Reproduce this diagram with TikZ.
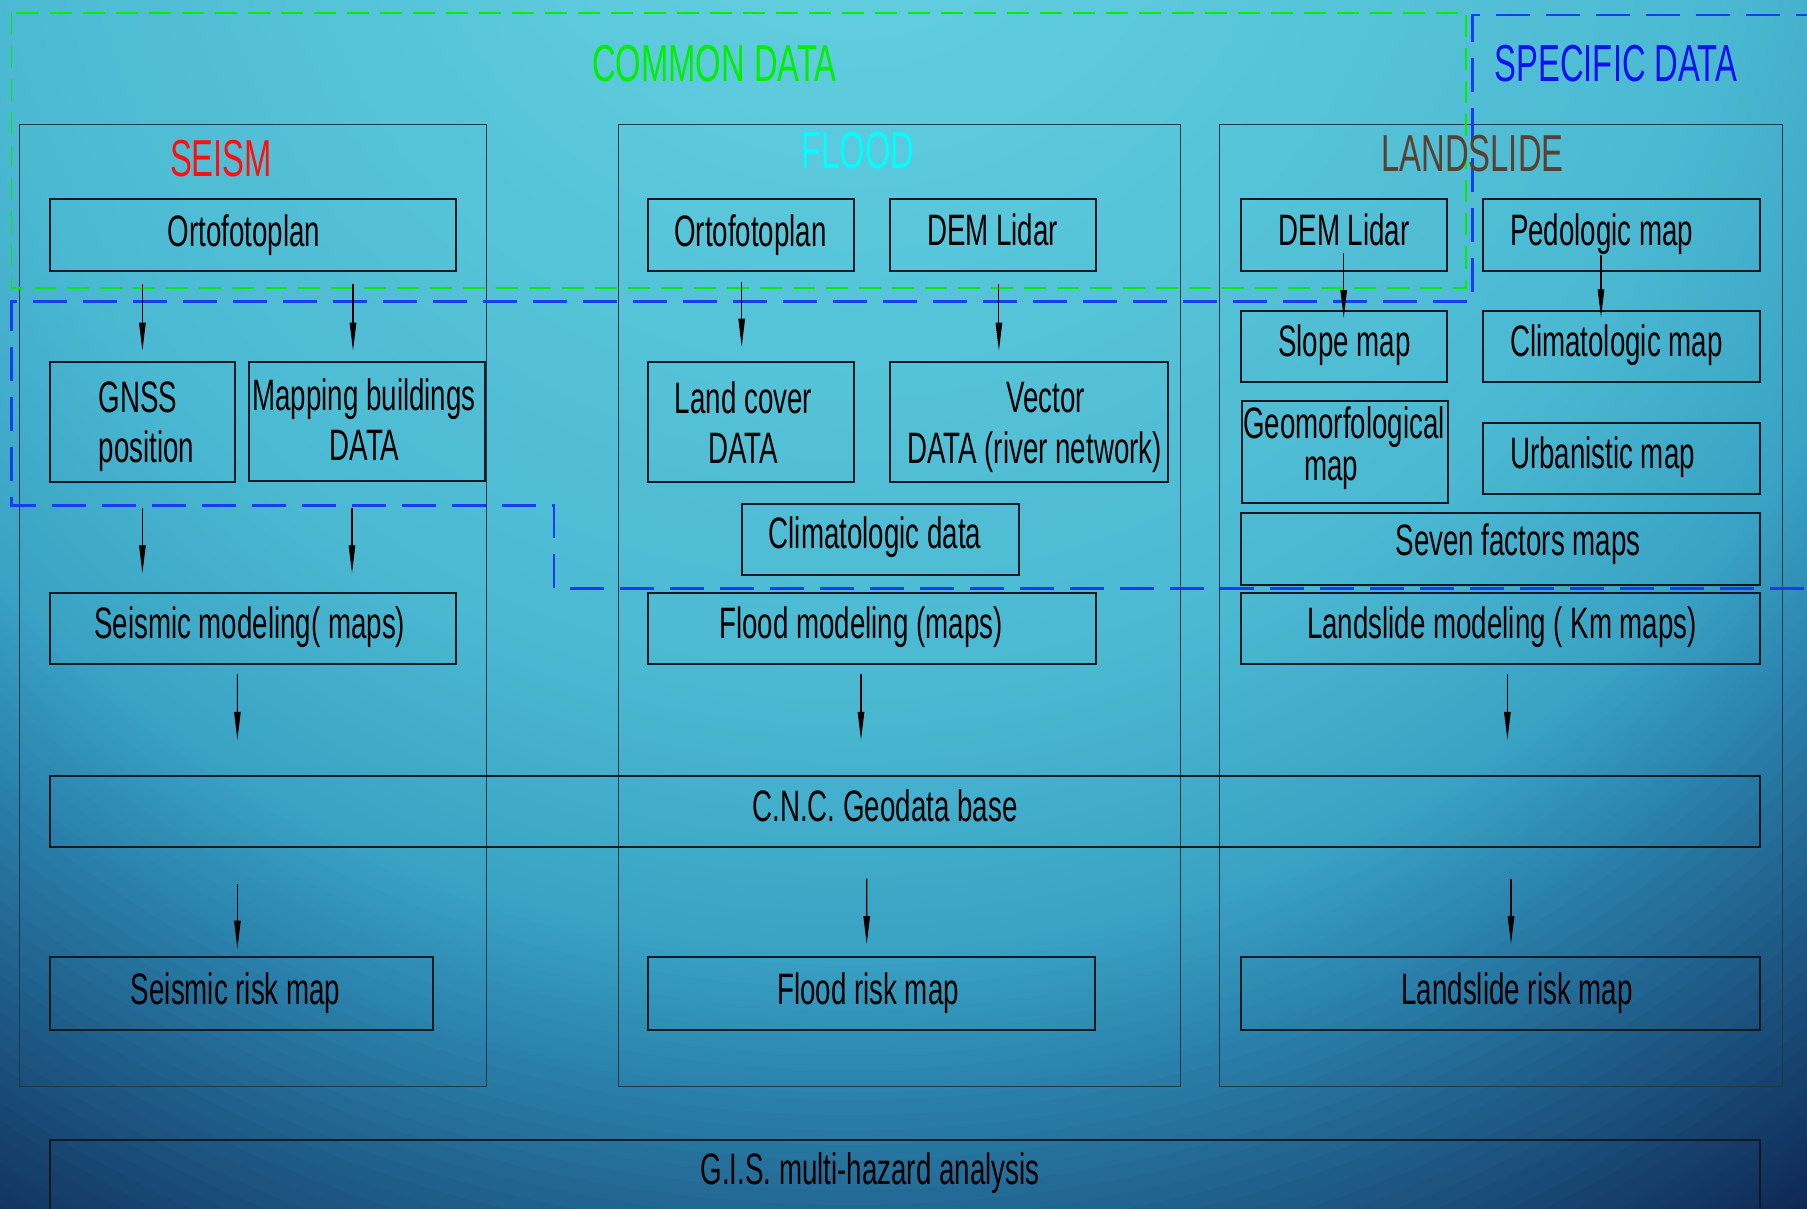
\documentclass[tikz,border=0pt]{standalone}
\usepackage{fontspec}
\setmainfont[FakeStretch=0.63]{Liberation Sans}
\usetikzlibrary{arrows.meta,calc}
\definecolor{g0}{HTML}{66D1E2}
\definecolor{g1}{HTML}{5ECBDD}
\definecolor{g2}{HTML}{4BB9D2}
\definecolor{g3}{HTML}{3AA3C4}
\definecolor{g4}{HTML}{2A82AC}
\definecolor{g5}{HTML}{163F6C}
\definecolor{g6}{HTML}{0C2450}
\definecolor{g7}{HTML}{0A1F48}
\definecolor{boxline}{HTML}{0E1A22}
\definecolor{colline}{HTML}{1C3A48}
\definecolor{cgreen}{HTML}{00F000}
\definecolor{cblue}{HTML}{1A3CF0}
\definecolor{tblue}{HTML}{1010F0}
\definecolor{tred}{HTML}{FF1010}
\definecolor{tcyan}{HTML}{00FFFF}
\definecolor{tbrown}{HTML}{5A4030}
\newcommand{\bx}[5]{\node[box, minimum width=#4pt, minimum height=#5pt] (#1) at (#2,#3) {};}
\newcommand{\cx}[5]{\node[colbox, minimum width=#4pt, minimum height=#5pt] (#1) at (#2,#3) {};}
\tikzset{
 box/.style={draw=boxline, line width=2pt, inner sep=0pt, outer sep=0pt, anchor=north west, rectangle},
 colbox/.style={draw=colline, line width=0.9pt, inner sep=0pt, outer sep=0pt, anchor=north west, rectangle},
 txt/.style={inner sep=0pt, outer sep=0pt, font=\fontsize{44}{50}\selectfont, text=black},
 ttl/.style={inner sep=0pt, outer sep=0pt, font=\fontsize{52}{60}\selectfont, anchor=base},
 arr/.style={draw=black, line width=1.1pt, -{Triangle[length=28pt,width=6.5pt]}},
 greendash/.style={draw=cgreen, line width=1.8pt, dash pattern=on 22pt off 11pt},
 bluedash/.style={draw=cblue, line width=2.6pt, dash pattern=on 34pt off 16pt},
}
\begin{document}
\begin{tikzpicture}[x=1pt,y=-1pt]
\useasboundingbox (0,0) rectangle (1807,1209);
\begin{scope}
\clip (0,0) rectangle (1807,1209);
\fill[g7] (0,0) rectangle (1807,1209);
\coordinate (bgc) at (850,-200);
\foreach \ra/\rb/\ca/\cb in {1720/2000/g6/g7, 1600/1720/g5/g6, 1300/1600/g4/g5, 1150/1300/g3/g4, 900/1150/g2/g3, 300/900/g1/g2, 0/300/g0/g1}{
  \foreach \i in {0,...,19}{
    \pgfmathsetmacro{\rr}{\rb-(\rb-\ra)*\i/20}
    \pgfmathtruncatemacro{\pp}{\i*5}
    \fill[\ca!\pp!\cb] (bgc) circle[radius=\rr pt];
  }
}
\end{scope}
% outer column boxes
\cx{sOut}{19}{124.3}{467.5}{962.2}
\cx{fOut}{618.5}{124.3}{562}{962.2}
\cx{lOut}{1219.3}{124.3}{563.4}{962.2}
% dashed regions
\coordinate (gA) at (11.5,13);
\coordinate (gB) at (1466,288);
\draw[greendash] (gA) rectangle (gB);
\coordinate (bA) at (1830,15);
\coordinate (bB) at (1472.6,15);
\coordinate (bC) at (1472.6,301.7);
\coordinate (bD) at (11.5,301.7);
\coordinate (bE) at (11.5,505.7);
\coordinate (bF) at (554,505.7);
\coordinate (bG) at (554,588.3);
\coordinate (bH) at (1830,588.3);
\draw[bluedash] (bA) -- (bB) -- (bC) -- (bD) -- (bE) -- (bF) -- (bG) -- (bH);
% titles
\node[ttl, text=cgreen] (tCommon) at (714.5,81.7) {COMMON DATA};
\node[ttl, text=tblue] (tSpecific) at (1616,82) {SPECIFIC DATA};
\node[ttl, text=tred] (tSeism) at (221,177) {SEISM};
\node[ttl, text=tcyan] (tFlood) at (858,168.3) {FLOOD};
\node[ttl, text=tbrown] (tLand) at (1472.5,171.7) {LANDSLIDE};
% boxes
\bx{sOrto}{50}{199}{406}{72}
\bx{fOrto}{648}{199}{205.6}{72}
\bx{fDem}{889.7}{199}{205.8}{72}
\bx{lDem}{1241}{199}{205.6}{72}
\bx{lPed}{1482.5}{199}{277.5}{72}
\bx{sGnss}{50}{362}{184.8}{120}
\bx{sMap}{248.6}{362}{236.4}{119}
\bx{fLand}{648}{362}{205.6}{120}
\bx{fVec}{889.7}{362}{278.7}{120}
\bx{fClim}{741.7}{503.7}{276.9}{71.6}
\bx{lSlope}{1241}{310.7}{205.6}{71.6}
\bx{lClim}{1482.5}{310.7}{277.5}{71.6}
\bx{lGeo}{1242.4}{401.3}{205.4}{102}
\bx{lUrb}{1482.5}{422.7}{277.5}{71.6}
\bx{lSeven}{1241}{513.3}{519}{71.7}
\bx{sModel}{50}{592.7}{405.8}{71.6}
\bx{fModel}{648}{592.7}{447.5}{71.6}
\bx{lModel}{1241.3}{592.7}{518.7}{71.6}
\bx{geo}{49.6}{775.5}{1710.4}{71.3}
\bx{sRisk}{49.6}{957.3}{383.7}{72.4}
\bx{fRisk}{647.7}{957.3}{447.1}{72.4}
\bx{lRisk}{1241}{957.3}{519}{72.4}
\bx{gis}{49.6}{1140.2}{1710.4}{120}
% texts
\node[txt, anchor=base] (x1) at (244,246.7) {Ortofotoplan};
\node[txt, anchor=base] (x2) at (750.5,246.7) {Ortofotoplan};
\node[txt, anchor=base] (x3) at (992.5,246) {DEM Lidar};
\node[txt, anchor=base] (x4) at (1344,246) {DEM Lidar};
\node[txt, anchor=base west] (x5) at (1510,246) {Pedologic map};
\node[txt, anchor=base west] (x6a) at (98.7,412.7) {GNSS};
\node[txt, anchor=base west] (x6b) at (98.7,462.7) {position};
\node[txt, anchor=base] (x7a) at (364,410) {Mapping buildings};
\node[txt, anchor=base] (x7b) at (364.5,460) {DATA};
\node[txt, anchor=base] (x8a) at (743.4,413.3) {Land cover};
\node[txt, anchor=base] (x8b) at (743.4,463.3) {DATA};
\node[txt, anchor=base] (x9a) at (1045.5,412.7) {Vector};
\node[txt, anchor=base] (x9b) at (1034.5,463.3) {DATA (river network)};
\node[txt, anchor=base] (x10) at (875,548.3) {Climatologic data};
\node[txt, anchor=base] (x11) at (1344.5,356.7) {Slope map};
\node[txt, anchor=base west] (x12) at (1510,356.7) {Climatologic map};
\node[txt, anchor=base] (x13a) at (1344,438) {Geomorfological};
\node[txt, anchor=base] (x13b) at (1331,480) {map};
\node[txt, anchor=base west] (x14) at (1510,468.3) {Urbanistic map};
\node[txt, anchor=base] (x15) at (1518,555) {Seven factors maps};
\node[txt, anchor=base] (x16) at (249.7,638.3) {Seismic modeling( maps)};
\node[txt, anchor=base] (x17) at (861,638.3) {Flood modeling (maps)};
\node[txt, anchor=base] (x18) at (1502,638.3) {Landslide modeling ( Km maps)};
\node[txt, anchor=base] (x19) at (885,821) {C.N.C. Geodata base};
\node[txt, anchor=base] (x20) at (235.7,1004.7) {Seismic risk map};
\node[txt, anchor=base] (x21) at (868,1004.7) {Flood risk map};
\node[txt, anchor=base] (x22) at (1517,1004.7) {Landslide risk map};
\node[txt, anchor=base] (x23) at (870,1184.8) {G.I.S. multi-hazard analysis};
% arrows
\draw[arr] ($(sOrto.south west)+(92.4,13)$) -- ($(sGnss.north west)+(92.4,-11.3)$);
\draw[arr] ($(sOrto.south west)+(303,13)$) -- ($(sMap.north west)+(104.4,-11.3)$);
\draw[arr] ($(fOrto.south west)+(93.7,10.7)$) -- ($(fLand.north west)+(93.7,-15.3)$);
\draw[arr] ($(fDem.south west)+(109.2,13)$) -- ($(fVec.north west)+(109.2,-11.3)$);
\draw[arr] ($(lDem.south west)+(102.7,-18)$) -- ($(lSlope.north west)+(102.7,7.3)$);
\draw[arr] ($(lPed.south west)+(118.5,-16)$) -- ($(lClim.north west)+(118.5,6.6)$);
\draw[arr] ($(sGnss.south west)+(92.4,26.3)$) -- ($(sModel.north west)+(92.4,-19.4)$);
\draw[arr] ($(sMap.south west)+(103.4,27.3)$) -- ($(sModel.north west)+(302,-19.4)$);
\draw[arr] ($(sModel.south west)+(187.4,9.9)$) -- ($(geo.north west)+(187.8,-35.7)$);
\draw[arr] ($(fModel.south west)+(213,9.9)$) -- ($(geo.north west)+(811.4,-35.7)$);
\draw[arr] ($(lModel.south west)+(266.1,9.9)$) -- ($(geo.north west)+(1457.8,-35.7)$);
\draw[arr] ($(geo.south west)+(187.8,36.7)$) -- ($(sRisk.north west)+(187.8,-8.6)$);
\draw[arr] ($(geo.south west)+(817.1,31.7)$) -- ($(fRisk.north west)+(219,-13.3)$);
\draw[arr] ($(geo.south west)+(1461.4,31.7)$) -- ($(lRisk.north west)+(270,-13.3)$);
\end{tikzpicture}
\end{document}
